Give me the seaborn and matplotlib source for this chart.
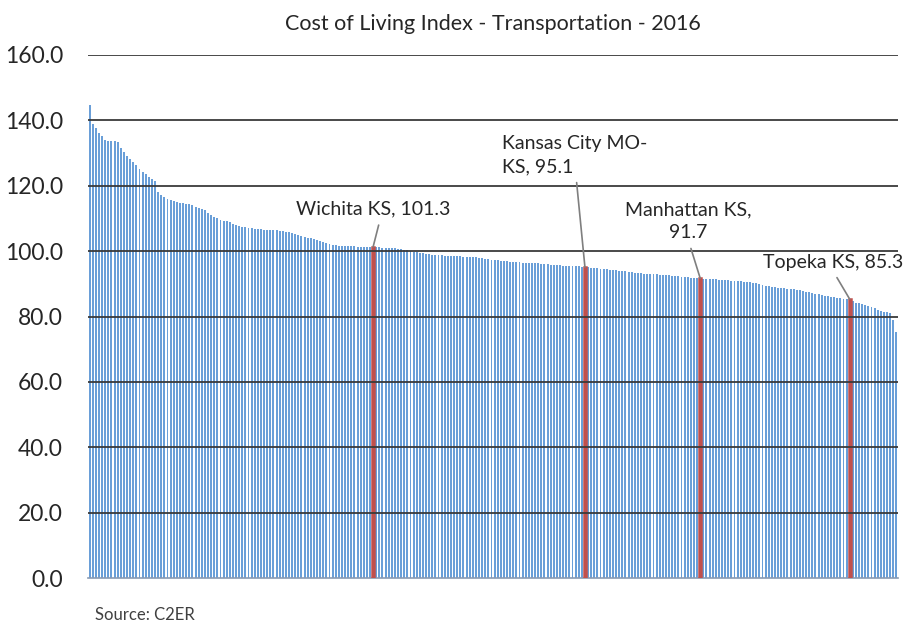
import numpy as np
import pandas as pd
import matplotlib
matplotlib.use("Agg")
import matplotlib.pyplot as plt
from matplotlib.colors import to_hex
import seaborn as sns

# Indice du coût des transports par zone urbaine (trié, décroissant)
valeurs = [
    144.6, 138.8, 137.6, 136.2, 135.1, 133.9, 133.8, 133.7, 133.6, 133.5,
    131.6, 130.2, 129.1, 128.2, 127.3, 126.2, 125.1, 124.2, 123.5, 122.8,
    122.1, 121.5, 118.0, 117.1, 116.6, 115.9, 115.5, 115.2, 115.0, 114.8,
    114.6, 114.5, 114.3, 114.0, 113.6, 113.2, 112.9, 112.6, 111.8, 111.2,
    110.4, 110.0, 109.6, 109.3, 109.1, 108.8, 108.4, 108.0, 107.7, 107.5,
    107.4, 107.2, 107.1, 106.9, 106.8, 106.7, 106.6, 106.5, 106.5, 106.4,
    106.4, 106.3, 106.2, 106.0, 105.8, 105.5, 105.2, 104.8, 104.5, 104.3,
    104.1, 103.9, 103.6, 103.3, 103.0, 102.7, 102.4, 102.2, 102.0, 101.8,
    101.7, 101.6, 101.6, 101.5, 101.5, 101.5, 101.4, 101.4, 101.4, 101.3,
    101.3, 101.3, 101.2, 101.2, 101.1, 101.1, 101.0, 101.0, 100.9, 100.8,
    100.6, 100.4, 100.2, 100.0, 99.8, 99.6, 99.4, 99.3, 99.1, 99.0,
    98.9, 98.8, 98.7, 98.7, 98.6, 98.6, 98.5, 98.5, 98.4, 98.4,
    98.3, 98.3, 98.2, 98.2, 98.1, 98.0, 97.9, 97.7, 97.6, 97.4,
    97.3, 97.2, 97.1, 97.0, 96.9, 96.8, 96.7, 96.6, 96.6, 96.5,
    96.5, 96.4, 96.4, 96.3, 96.3, 96.2, 96.1, 96.0, 95.9, 95.8,
    95.7, 95.7, 95.6, 95.6, 95.5, 95.5, 95.4, 95.3, 95.2, 95.1,
    95.0, 94.9, 94.8, 94.7, 94.6, 94.5, 94.4, 94.3, 94.2, 94.1,
    94.0, 93.9, 93.8, 93.6, 93.5, 93.4, 93.3, 93.2, 93.1, 93.0,
    93.0, 92.9, 92.9, 92.8, 92.8, 92.7, 92.6, 92.5, 92.4, 92.3,
    92.2, 92.1, 92.0, 91.9, 91.8, 91.8, 91.7, 91.6, 91.5, 91.5,
    91.4, 91.4, 91.3, 91.3, 91.2, 91.1, 91.0, 90.9, 90.8, 90.8,
    90.7, 90.6, 90.5, 90.3, 90.1, 89.9, 89.6, 89.4, 89.2, 89.0,
    88.9, 88.8, 88.7, 88.6, 88.5, 88.4, 88.3, 88.2, 88.0, 87.8,
    87.6, 87.4, 87.2, 87.0, 86.8, 86.6, 86.4, 86.2, 86.0, 85.9,
    85.8, 85.7, 85.5, 85.4, 85.3, 84.6, 84.2, 84.0, 83.8, 83.5,
    83.2, 82.9, 82.5, 82.1, 81.8, 81.5, 81.4, 81.2, 79.0, 75.3,
]

# Villes du Kansas mises en évidence
villes_ks = ["Wichita KS", "Kansas City MO-KS", "Manhattan KS", "Topeka KS"]
rangs_ks = [91, 159, 196, 244]
etiquettes_ks = ["Wichita KS, 101.3", "Kansas City MO-\nKS, 95.1",
                 "Manhattan KS,\n91.7", "Topeka KS, 85.3"]

graduations = [0, 20, 40, 60, 80, 100, 120, 140, 160]

BLEU = "#6A9FD8"
ROUGE = "#C0504D"

df = pd.DataFrame({"rang": np.arange(len(valeurs)), "indice": valeurs})
df["groupe"] = "autre"
df.loc[df["rang"].isin(rangs_ks), "groupe"] = "ks"

sns.set_style("white")
plt.rcParams["font.family"] = ["Lato", "DejaVu Sans"]

fig = plt.figure(figsize=(9.08, 6.43), dpi=100)
ax = fig.add_axes([0.097, 0.101, 0.892, 0.8135])

sns.barplot(
    data=df,
    x="rang",
    y="indice",
    hue="groupe",
    palette={"autre": BLEU, "ks": ROUGE},
    saturation=1,
    dodge=False,
    width=0.62,
    linewidth=0,
    legend=False,
    ax=ax,
)

# Barres rouges plus visibles (bordure)
for barre in ax.patches:
    if to_hex(barre.get_facecolor()).lower() == ROUGE.lower():
        barre.set_edgecolor(ROUGE)
        barre.set_linewidth(1.8)
        barre.set_zorder(4)

ax.set_xlim(-0.5, len(valeurs) - 0.5)
ax.set_ylim(0, 160)
ax.set_yticks(graduations)
ax.set_yticklabels([f"{g:.1f}" for g in graduations], fontsize=16.5, color="#262626")
ax.set_xticks([])
ax.set_xlabel("")
ax.set_ylabel("")
ax.tick_params(axis="y", length=0, pad=18)

for g in graduations[1:]:
    ax.axhline(g, color="#3a3a3a", linewidth=1.3, zorder=5)

for cote in ["left", "right", "top"]:
    ax.spines[cote].set_visible(False)
ax.spines["bottom"].set_color("#8a9bb3")
ax.spines["bottom"].set_linewidth(1.2)

ax.set_title("Cost of Living Index - Transportation - 2016",
             fontsize=15.5, color="#262626", pad=18)

# Positions des étiquettes (rang, valeur), alignement et point de départ du trait
positions = [(90.9, 112.8), (132.3, 129.4), (192.3, 109.2), (238.6, 96.6)]
alignements = ["center", "left", "center", "center"]
departs = [(0.55, 0.0), (0.51, 0.0), (0.5, 0.0), (0.5, 0.0)]

for rang, texte, pos, ha, rel in zip(rangs_ks, etiquettes_ks, positions, alignements, departs):
    ax.annotate(
        texte,
        xy=(rang, valeurs[rang]),
        xytext=pos,
        ha=ha,
        va="center",
        multialignment=ha,
        fontsize=14,
        color="#262626",
        linespacing=1.45,
        annotation_clip=False,
        zorder=7,
        arrowprops=dict(arrowstyle="-", color="#7f7f7f", lw=1.2,
                        relpos=rel, shrinkA=3, shrinkB=0),
    )

fig.text(0.105, 0.035, "Source: C2ER", fontsize=12, color="#404040")

fig.savefig("out.png", dpi=100)
